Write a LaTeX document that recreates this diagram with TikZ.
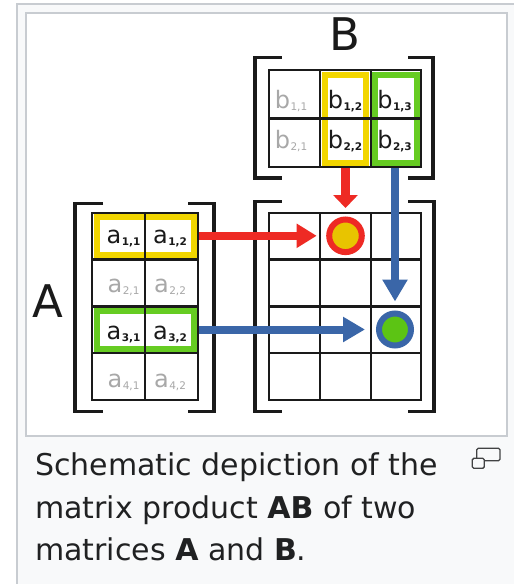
\documentclass[tikz,border=0pt]{standalone}
\usepackage{fontspec}
\setmainfont{DejaVu Sans}
\usetikzlibrary{arrows.meta}
\definecolor{myred}{HTML}{EE2A24}
\definecolor{myyellow}{HTML}{F2D600}
\definecolor{myyfill}{HTML}{E8C400}
\definecolor{mygreen}{HTML}{66CC22}
\definecolor{mygfill}{HTML}{5CC414}
\definecolor{myblue}{HTML}{3A66A8}
\definecolor{framecol}{HTML}{C8CCD1}
\definecolor{capbg}{HTML}{F8F9FA}
\definecolor{captext}{HTML}{202122}
\definecolor{inact}{HTML}{A8A8A8}
\definecolor{ink}{HTML}{1A1A1A}
\newcommand\subidx[1]{\hspace{0.5pt}\raisebox{-2.5pt}{\fontsize{10.5}{10.5}\selectfont #1}}
\newcommand\subidxb[1]{\hspace{0.5pt}\raisebox{-2.5pt}{\fontsize{10.5}{10.5}\selectfont\bfseries #1}}
\begin{document}
\begin{tikzpicture}[x=1pt,y=-1pt,
  gridline/.style={line width=2.3pt, draw=ink},
  bracket/.style={line width=3.2pt, draw=ink},
  hly/.style={draw=myyellow, line width=6pt, inner sep=0pt, outer sep=0pt},
  hlg/.style={draw=mygreen, line width=6pt, inner sep=0pt, outer sep=0pt},
  entry/.style={anchor=base, inner sep=0pt, font=\fontsize{24}{24}\selectfont},
  actv/.style={entry, text=ink},
  inactv/.style={entry, text=inact},
  redarr/.style={draw=myred, line width=8pt, -{Triangle[width=23pt,length=20pt]}},
  bluearr/.style={draw=myblue, line width=8pt, -{Triangle[width=24pt,length=22pt]}},
  ring/.style={circle, line width=6pt, inner sep=0pt},
  biglabel/.style={inner sep=0pt, font=\fontsize{45}{45}\selectfont, text=ink},
  captxt/.style={anchor=base west, inner sep=0pt, text=captext, font=\fontsize{30}{30}\selectfont},
  icon/.style={draw=captext!85, line width=1.3pt, rounded corners=1.5pt}
]
\useasboundingbox (0,0) rectangle (514,584);
% background frames
\fill[white] (0,0) rectangle (514,584);
\fill[capbg] (17,4) rectangle (514,584);
\draw[framecol, line width=1.6pt] (17,584) -- (17,4) -- (514,4);
\filldraw[fill=white, draw=framecol, line width=1.5pt] (26,13) rectangle (507,436);

% ---------- highlights ----------
\node[hly, minimum width=97pt, minimum height=37.9pt] (hA1) at (145,236.15) {};
\node[hlg, minimum width=97pt, minimum height=37.8pt] (hA3) at (145,329.8) {};
\node[hly, minimum width=41.7pt, minimum height=88pt] (hB2) at (345.35,118.5) {};
\node[hlg, minimum width=41.3pt, minimum height=88pt] (hB3) at (395.85,118.5) {};

% ---------- matrix A ----------
\draw[gridline] (92,212.7) rectangle (198,400);
\draw[gridline] (145,212.7) -- (145,400);
\foreach \yy in {259.6,306.4,353.2} \draw[gridline] (92,\yy) -- (198,\yy);
\draw[bracket] (103,203.3) -- (75,203.3) -- (75,411.7) -- (103,411.7);
\draw[bracket] (188,203.3) -- (214,203.3) -- (214,411.7) -- (188,411.7);

% ---------- matrix B ----------
\draw[gridline] (269.3,70) rectangle (421,167);
\draw[gridline] (320,70) -- (320,167);
\draw[gridline] (370.7,70) -- (370.7,167);
\draw[gridline] (269.3,118.5) -- (421,118.5);
\draw[bracket] (281.7,57.3) -- (255,57.3) -- (255,178) -- (281.7,178);
\draw[bracket] (408,57.3) -- (433,57.3) -- (433,178) -- (408,178);

% ---------- matrix C ----------
\draw[gridline] (269.3,212.7) rectangle (421,400);
\draw[gridline] (320,212.7) -- (320,400);
\draw[gridline] (370.7,212.7) -- (370.7,400);
\foreach \yy in {259.6,306.4,353.2} \draw[gridline] (269.3,\yy) -- (421,\yy);
\draw[bracket] (281.7,201.7) -- (255,201.7) -- (255,411.7) -- (281.7,411.7);
\draw[bracket] (408,201.7) -- (434,201.7) -- (434,411.7) -- (408,411.7);

% ---------- entries of A ----------
\node[actv]   (a11) at (123.5,243) {a\subidxb{1,1}};
\node[actv]   (a12) at (170,243)   {a\subidxb{1,2}};
\node[inactv] (a21) at (123.5,292) {a\subidx{2,1}};
\node[inactv] (a22) at (170,292)   {a\subidx{2,2}};
\node[actv]   (a31) at (123.5,339) {a\subidxb{3,1}};
\node[actv]   (a32) at (170,339)   {a\subidxb{3,2}};
\node[inactv] (a41) at (123.5,387) {a\subidx{4,1}};
\node[inactv] (a42) at (170,387)   {a\subidx{4,2}};

% ---------- entries of B ----------
\node[inactv] (b11) at (291,108)   {b\subidx{1,1}};
\node[actv]   (b12) at (345,108)   {b\subidxb{1,2}};
\node[actv]   (b13) at (394.5,108) {b\subidxb{1,3}};
\node[inactv] (b21) at (291,148)   {b\subidx{2,1}};
\node[actv]   (b22) at (345,148)   {b\subidxb{2,2}};
\node[actv]   (b23) at (394.5,148) {b\subidxb{2,3}};

% ---------- labels ----------
\node[biglabel] (labA) at (48,301.5) {A};
\node[biglabel] (labB) at (345,34) {B};

% ---------- result circles ----------
\node[ring, draw=myred, fill=myyfill, minimum size=32.6pt] (c12) at (345.5,235.8) {};
\node[ring, draw=myblue, fill=mygfill, minimum size=32pt] (c23) at (395,329.5) {};

% ---------- arrows ----------
\coordinate (rA1) at (199,235.8);
\coordinate (rA3) at (199,329.5);
\coordinate (cB2) at (345.5,168);
\coordinate (cB3) at (395,168);
\draw[redarr, shorten >=9.5pt] (rA1) -- (c12);
\draw[draw=myred, line width=9pt, -{Triangle[width=24pt,length=13pt]}, shorten >=8.5pt] (cB2) -- (c12);
\draw[bluearr, shorten >=11pt] (rA3) -- (c23);
\draw[bluearr, shorten >=9pt] (cB3) -- (c23);

% ---------- caption ----------
\node[captxt] (cap1) at (35,475.7) {Schematic depiction of the};
\node[captxt] (cap2) at (35,518) {matrix product \textbf{AB} of two};
\node[captxt] (cap3) at (35,560) {matrices \textbf{A} and \textbf{B}.};

% ---------- enlarge icon ----------
\draw[icon] (476.7,448.3) rectangle (500,460.7);
\filldraw[icon, fill=capbg] (472.3,458.3) rectangle (484.3,468.3);
\end{tikzpicture}
\end{document}
